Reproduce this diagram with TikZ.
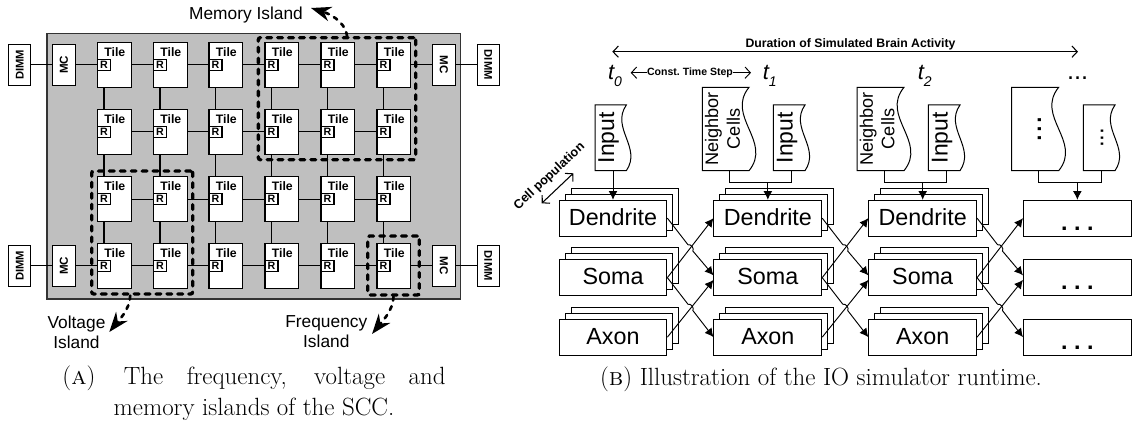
\documentclass[tikz,border=0pt]{standalone}
\usepackage{fontspec}
\setsansfont{Liberation Sans}
\usetikzlibrary{arrows.meta,calc}
\newcommand{\fsize}[1]{\fontsize{#1}{#1}\selectfont}
\newcommand{\tstep}[1]{\textit{t\raisebox{-.28em}{\fsize{10.5}#1}}}
% document outline with a wavy right side: name, left, top, width, height
\newcommand{\docbox}[5]{%
\draw[docline] (#2,#3) -- (#2+.87*#4,#3) .. controls (#2+.43*#4,#3+.35*#5) and (#2+1.31*#4,#3+.65*#5) .. (#2+.87*#4,#3+#5) -- (#2,#3+#5) -- cycle;
\node[minimum width=.75pt*#4,minimum height=.75pt*#5,inner sep=0pt] at (#2+.5*#4,#3+.5*#5) (#1){};
}
\begin{document}
\begin{tikzpicture}[x=.75pt,y=-.75pt,font=\sffamily,line width=.85pt]
\tikzstyle{tile} = [rectangle, draw, fill=white, minimum width=25.2pt, minimum height=33.8pt, inner sep=0pt]
\tikzstyle{router} = [rectangle, draw, fill=white, minimum width=9.7pt, minimum height=8.2pt, inner sep=0pt, font=\sffamily\bfseries\fsize{8}]
\tikzstyle{tilename} = [inner sep=0pt, font=\sffamily\bfseries\fsize{9.2}]
\tikzstyle{mc} = [rectangle, draw, fill=white, minimum width=30.7pt, minimum height=17pt, inner sep=0pt, font=\sffamily\bfseries\fsize{8.7}]
\tikzstyle{dimm} = [rectangle, draw, fill=white, minimum width=30.7pt, minimum height=16.5pt, inner sep=0pt, font=\sffamily\bfseries\fsize{8.4}]
\tikzstyle{island} = [rectangle, draw, line width=2.5pt, rounded corners=1.5pt, dash pattern=on 3.6pt off 4.6pt, line cap=round, inner sep=0pt]
\tikzstyle{islandarrow} = [draw, line width=2pt, dash pattern=on 3pt off 4.4pt, line cap=round, -{Stealth[length=15pt,width=11pt]}]
\tikzstyle{islandname} = [inner sep=0pt, align=center, font=\sffamily\fontsize{13}{15}\selectfont]
\tikzstyle{cell} = [rectangle, draw, fill=white, minimum width=80.8pt, minimum height=26.8pt, inner sep=0pt, line width=.75pt, text depth=1.5pt, font=\sffamily\fsize{17.5}]
\tikzstyle{dots} = [inner sep=0pt, anchor=base, font=\sffamily\bfseries\fsize{17.5}]
\tikzstyle{docline} = [draw, line width=.75pt]
\tikzstyle{doctext} = [rotate=90, inner sep=0pt, align=center]
\tikzstyle{flow} = [draw, line width=.7pt, -{Latex[length=6.5pt,width=6.6pt]}]
\tikzstyle{span} = [draw, line width=.8pt, {Straight Barb[length=4pt,width=8.5pt]}-{Straight Barb[length=4pt,width=8.5pt]}]
\tikzstyle{small} = [inner sep=0pt, font=\sffamily\bfseries\fsize{9.2}]
\tikzstyle{stepname} = [anchor=base west, inner sep=0pt, font=\sffamily\fsize{16.5}]
\tikzstyle{caption} = [inner sep=0pt, align=center, font=\rmfamily\fontsize{18.7}{23.3}\selectfont]
\useasboundingbox (0,0) rectangle (1132,424);
\fill[black!25!white, draw=black!80] (47,33.5) rectangle (460.5,299);
%% tiles
\foreach \r/\y in {1/64.8,2/131.7,3/199.2,4/265.8}
\foreach \c/\x in {1/114.3,2/170.3,3/225.8,4/281.8,5/337.8,6/393.8}{
\node[tile] at (\x,\y) (T\r\c){};
\node[tilename] at (\x+.5,\y-12.8) (N\r\c){Tile};
\node[router] at (\x-10.3,\y) (R\r\c){R};
}
\node[mc,rotate=90] at (64,64.8) (MC1){MC};
\node[mc,rotate=90] at (64,265.8) (MC2){MC};
\node[mc,rotate=-90] at (443.8,64.8) (MC3){MC};
\node[mc,rotate=-90] at (443.8,265.8) (MC4){MC};
\node[dimm,rotate=90] at (19.7,64.8) (DIMM1){DIMM};
\node[dimm,rotate=90] at (19.7,265.8) (DIMM2){DIMM};
\node[dimm,rotate=-90] at (488.3,64.8) (DIMM3){DIMM};
\node[dimm,rotate=-90] at (488.3,265.8) (DIMM4){DIMM};
%% tile links
\foreach \r in {1,2,3,4}
\foreach \c/\d in {1/2,2/3,3/4,4/5,5/6}{
\draw (T\r\c.east |- R\r\c) -- (R\r\d);
}
\foreach \c in {1,2,3,4,5,6}{
\draw (T1\c.south -| R1\c) -- (T2\c.north -| R1\c);
\draw (T2\c.south -| R1\c) -- (T3\c.north -| R1\c);
\draw (T3\c.south -| R1\c) -- (T4\c.north -| R1\c);
}
\draw (DIMM1) -- (MC1);
\draw (MC1) -- (R11);
\draw (DIMM2) -- (MC2);
\draw (MC2) -- (R41);
\draw (DIMM3) -- (MC3);
\draw (MC3) -- (T16.east |- R16);
\draw (DIMM4) -- (MC4);
\draw (MC4) -- (T46.east |- R46);
%% islands
\node[island,minimum width=118pt,minimum height=91.5pt] at (337,98.7) (MemIsl){};
\node[island,minimum width=75.7pt,minimum height=92.2pt] at (142.2,232.5) (VoltIsl){};
\node[island,minimum width=38.7pt,minimum height=44.2pt] at (393.5,265.5) (FreqIsl){};
\node[islandname] at (246,14.7) (MemName){Memory Island};
\node[islandname] at (76.5,332) (VoltName){Voltage\\Island};
\node[islandname] at (326.3,332) (FreqName){Frequency\\Island};
\coordinate (MemTip) at (311,8);
\coordinate (VoltTip) at (109.3,332);
\coordinate (FreqTip) at (372,334);
\draw[islandarrow] ([xshift=7.5pt]MemIsl.north) .. controls +(-2,-16) and +(16,5) .. (MemTip);
\draw[islandarrow] ([xshift=-9pt]VoltIsl.south) .. controls +(0,14) and +(8,-10) .. (VoltTip);
\draw[islandarrow] (FreqIsl.south) .. controls +(0,14) and +(8,-10) .. (FreqTip);
%% runtime
\node[small] at (850.5,44.7) (Dur){Duration of Simulated Brain Activity};
\coordinate (DurL) at (612.3,51.7);
\coordinate (DurR) at (1078,51.7);
\draw[span] (DurL) -- (DurR);
\node[stepname] at (607.5,80) (t0){\tstep{0}};
\node[stepname] at (762.3,80) (t1){\tstep{1}};
\node[stepname] at (917.3,80) (t2){\tstep{2}};
\node[inner sep=0pt,font=\sffamily\fsize{19}] at (1077.7,80) [anchor=base] (tn){...};
\node[inner sep=0pt,font=\sffamily\bfseries\fsize{7.9}] at (690,72.7) (Step){Const.\ Time Step};
\coordinate (StepL) at (630.7,72.7);
\coordinate (StepR) at (751,72.7);
\draw[line width=.7pt, -{Straight Barb[length=4pt,width=8.5pt]}] (Step.west) -- (StepL);
\draw[line width=.7pt, -{Straight Barb[length=4pt,width=8.5pt]}] (Step.east) -- (StepR);
\node[small,rotate=43,font=\sffamily\bfseries\fsize{9.5}] at (549.5,176.5) (Pop){Cell population};
\coordinate (PopL) at (541.7,203.3);
\coordinate (PopR) at (573.3,173.3);
\draw[span] (PopL) -- (PopR);
%% cell stacks
\foreach \c/\x in {1/613,2/767.85,3/922.7}
\foreach \n/\y/\t in {D/218.15/Dendrite,S/277.65/Soma,A/337.15/Axon}{
\node[cell] at (\x+12,\y-12) (\n\c b){};
\node[cell] at (\x+6,\y-6) (\n\c a){};
\node[cell] at (\x,\y) (\n\c){\t};
}
\node[cell] at (1077.35,218.15) (D4){};
\node[cell] at (1077.35,277.65) (S4){};
\node[cell] at (1077.35,337.15) (A4){};
\node[dots] at (1077.35,230) (Ddots){.\ .\ .};
\node[dots] at (1077.35,289.5) (Sdots){.\ .\ .};
\node[dots] at (1077.35,349) (Adots){.\ .\ .};
%% inputs
\docbox{I1}{595}{105}{36}{65.7}
\docbox{C2}{702.3}{87.3}{53.7}{83.4}
\docbox{I2}{773.3}{105}{36.4}{65.7}
\docbox{C3}{857}{87.3}{54}{83.4}
\docbox{I3}{928.3}{105}{36.4}{65.7}
\docbox{C4}{1011.7}{87.3}{54}{83.4}
\docbox{I4}{1083.3}{105}{36.4}{65.7}
\node[doctext,font=\sffamily\fsize{17.2}] at (608.5,137.8) (I1t){Input};
\node[doctext,font=\sffamily\fsize{17.2}] at (787,137.8) (I2t){Input};
\node[doctext,font=\sffamily\fsize{17.2}] at (942,137.8) (I3t){Input};
\node[doctext,font=\sffamily\fontsize{13.6}{16.2}\selectfont] at (722.5,129) (C2t){Neighbor\\Cells};
\node[doctext,font=\sffamily\fontsize{13.6}{16.2}\selectfont] at (877.2,129) (C3t){Neighbor\\Cells};
\node[rotate=90,anchor=base,inner sep=0pt,font=\sffamily\fsize{23.5}] at (1041.7,129) (C4t){...};
\node[rotate=90,anchor=base,inner sep=0pt,font=\sffamily\fsize{18}] at (1103.3,137.8) (I4t){...};
%% arrows
\draw[flow] (I1.south) -- (D1.north);
\foreach \c in {2,3,4}{
\coordinate (J\c) at (D\c.north |- C\c.south);
\draw[line width=.75pt] (C\c.south) -- ++(0,11.6) -| (I\c.south);
\draw[flow] ([yshift=-8.7pt]J\c) -- (D\c.north);
}
\foreach \a/\b in {1/2,2/3,3/4}{
\coordinate (Xu\a) at ($(D\a.east)!.5!(S\b.west)$);
\draw[flow] (D\a.east) -- ($(Xu\a)!3pt!(D\a.east)$) to[bend left=70] ($(Xu\a)!3pt!(S\b.west)$) -- ([yshift=1.7pt]S\b.west);
\draw[flow] (S\a.east) -- (D\b.west);
\coordinate (Xd\a) at ($(S\a.east)!.5!(A\b.west)$);
\draw[flow] (S\a.east) -- ($(Xd\a)!3pt!(S\a.east)$) to[bend left=70] ($(Xd\a)!3pt!(A\b.west)$) -- (A\b.west);
\draw[flow] (A\a.east) -- ([yshift=-1.7pt]S\b.west);
}
%% captions
\node[caption] at (254,393.5) (CapA){\makebox[287.3pt][s]{(\textsc{a})\hspace{.2em} The frequency, voltage and}\\memory islands of the SCC.};
\node[caption,anchor=base] at (821,385.5) (CapB){(\textsc{b}) Illustration of the IO simulator runtime.};
\end{tikzpicture}
\end{document}
